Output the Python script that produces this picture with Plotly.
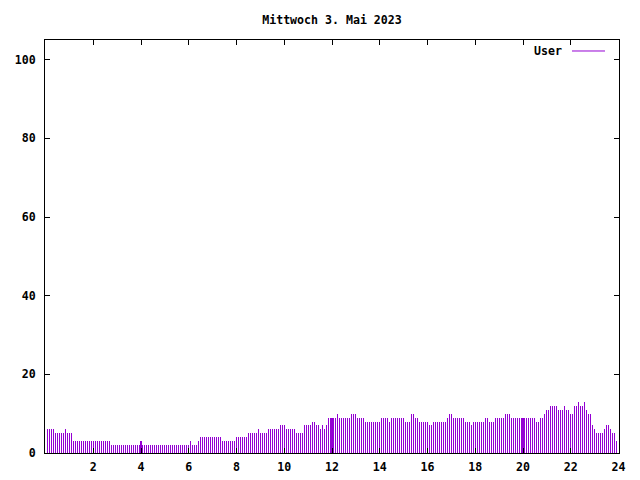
import plotly.graph_objects as go

# 5-minute samples, minutes after midnight
minutes = list(range(5, 1440, 5))  # 287 samples
hours = [m / 60 for m in minutes]

users_00_06 = [6, 6, 6, 6, 5, 5, 5, 5, 5, 6, 5, 5, 5,
               3, 3, 3, 3, 3, 3, 3, 3, 3, 3, 3, 3, 3, 3, 3, 3, 3, 3, 3,
               2, 2, 2, 2, 2, 2, 2, 2, 2, 2, 2, 2, 2, 2, 2,
               3,
               2, 2, 2, 2, 2, 2, 2, 2, 2, 2, 2, 2, 2, 2, 2, 2, 2, 2, 2, 2, 2, 2, 2]
users_06_12 = [2, 3, 2, 2, 2, 3,
               4, 4, 4, 4, 4, 4, 4, 4, 4, 4, 4,
               3, 3, 3, 3, 3, 3, 3,
               4, 4, 4, 4, 4, 4,
               5, 5, 5, 5, 5, 6, 5, 5, 5, 5,
               6, 6, 6, 6, 6, 6, 7, 7, 7,
               6, 6, 6, 6, 6, 5, 5, 5, 5,
               7, 7, 7, 7, 8, 8, 7, 7, 6, 7, 6, 7,
               9, 9, 9]
users_12_18 = [9, 9, 10, 9, 9, 9, 9, 9, 9, 10, 10, 10, 9, 9, 9, 9,
               8, 8, 8, 8, 8, 8, 8, 8, 9, 9, 9, 9, 8,
               9, 9, 9, 9, 9, 9, 9, 8, 8, 8, 10, 10, 9, 9,
               8, 8, 8, 8, 8, 7, 7, 8, 8, 8, 8, 8, 8, 8,
               9, 10, 10, 9, 9, 9, 9, 9, 9, 8, 8, 8, 7, 8, 8]
users_18_24 = [8, 8, 8, 8, 9, 9, 8, 8, 8, 9, 9, 9, 9, 9, 10, 10, 10,
               9, 9, 9, 9, 9, 9, 9, 9, 9, 9, 9, 9, 9, 8, 8, 9, 9,
               10, 11, 11, 12, 12, 12, 12, 11, 11, 11, 12, 11, 11, 10, 10,
               12, 12, 13, 12, 12, 13, 11, 10, 10,
               7, 6, 5, 5, 5, 5, 6, 7, 7, 6, 5, 5, 3, 3]

users = users_00_06 + users_06_12 + users_12_18 + users_18_24

x_ticks = [2, 4, 6, 8, 10, 12, 14, 16, 18, 20, 22, 24]
y_ticks = [0, 20, 40, 60, 80, 100]

PURPLE = "#9400D3"
FONT = dict(family="DejaVu Sans Mono", size=11.6, color="black", weight="bold")

PLOT_W = 574                      # pixels of the plot area
HALF_PX = 0.5 * 24 / (PLOT_W - 1)  # half a pixel in hours

fig = go.Figure()
# very thin bars: plotly expands them to exactly one pixel (impulse style)
fig.add_trace(go.Bar(x=hours, y=users, width=0.0005, name="User",
                     marker=dict(color=PURPLE, line=dict(width=0)),
                     showlegend=False))

fig.update_layout(
    width=640, height=480,
    margin=dict(l=37, r=640 - 37 - PLOT_W, t=32, b=35),
    paper_bgcolor="white", plot_bgcolor="white",
    font=FONT,
    bargap=0,
    title=dict(text="Mittwoch 3. Mai 2023", x=0.5, xref="paper",
               xanchor="center", y=0.975, yanchor="middle",
               font=FONT),
    annotations=[dict(text="User", xref="paper", yref="paper",
                      x=0.9042, y=0.9734, xanchor="right", yanchor="middle",
                      showarrow=False, font=FONT)],
    shapes=[dict(type="line", xref="paper", yref="paper",
                 x0=0.9181, x1=0.9756, y0=0.9734, y1=0.9734,
                 line=dict(color=PURPLE, width=1))],
)
fig.update_xaxes(range=[-HALF_PX, 24 + HALF_PX], tickvals=x_ticks,
                 ticks="inside", ticklen=5, automargin=False,
                 tickcolor="black", showline=True, linecolor="black",
                 linewidth=1, mirror="ticks", showgrid=False, zeroline=False,
                 ticklabelstandoff=3, tickfont=FONT)
fig.update_yaxes(range=[0, 105], tickvals=y_ticks, ticks="inside", ticklen=5,
                 automargin=False,
                 tickcolor="black", showline=True, linecolor="black",
                 linewidth=1, mirror="ticks", showgrid=False, zeroline=False,
                 ticklabelstandoff=6, tickfont=FONT)

fig.write_html("out.html")
